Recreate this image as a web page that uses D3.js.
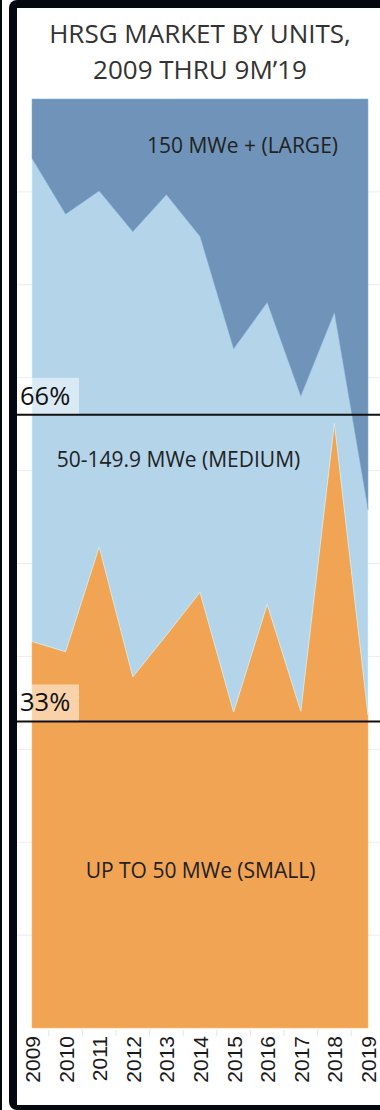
<!DOCTYPE html>
<html>
<head>
<meta charset="utf-8">
<script src="https://cdn.jsdelivr.net/npm/d3@7/dist/d3.min.js"></script>
<style>
  html, body { margin: 0; padding: 0; background: #ffffff; }
  svg { display: block; }
</style>
</head>
<body>
<script>
// HRSG market share by unit size, percent of units per year
const years = [2009, 2010, 2011, 2012, 2013, 2014, 2015, 2016, 2017, 2018, 2019];
const smallShare  = [41.6, 40.5, 51.8, 37.8, 42.3, 46.9, 34.0, 45.6, 34.1, 65.1, 33.7];
const mediumShare = [52.0, 47.1, 38.3, 47.9, 47.4, 38.3, 39.1, 32.5, 33.9, 11.9, 22.1];
const largeShare  = [ 6.4, 12.4,  9.9, 14.3, 10.3, 14.8, 26.9, 21.9, 32.0, 23.0, 44.2];
const seriesKeys  = ["small", "medium", "large"];
const seriesNames = ["UP TO 50 MWe (SMALL)", "50-149.9 MWe (MEDIUM)", "150 MWe + (LARGE)"];
const refLines = [0.66, 0.33];
const refLabels = ["66%", "33%"];
const titleLines = ["HRSG MARKET BY UNITS,", "2009 THRU 9M\u201919"];

const W = 380, H = 1110;
const plot = { left: 32, right: 368, top: 99, bottom: 1028 };
const colors = { small: "#f2a455", medium: "#b4d4ea", large: "#7094b9" };

const rows = years.map((y, i) => ({
  year: y, small: smallShare[i], medium: mediumShare[i], large: largeShare[i]
}));

const stack = d3.stack().keys(seriesKeys).offset(d3.stackOffsetExpand);
const layers = stack(rows);

const x = d3.scalePoint().domain(years).range([plot.left, plot.right]);
const y = d3.scaleLinear().domain([0, 1]).range([plot.bottom, plot.top]);

const svg = d3.select("body").append("svg").attr("width", W).attr("height", H);

// panel frame
svg.append("rect").attr("x", 0).attr("y", 0).attr("width", W).attr("height", H).attr("fill", "#ffffff");
svg.append("rect").attr("x", 0).attr("y", 0).attr("width", 2).attr("height", H).attr("fill", "#05080f");
svg.append("rect").attr("x", 9).attr("y", 0).attr("width", W + 20).attr("height", H - 0)
  .attr("rx", 8).attr("fill", "#05080f");
svg.append("rect").attr("x", 17).attr("y", 8).attr("width", W + 10).attr("height", H - 13)
  .attr("fill", "#ffffff");

// title
svg.append("g").selectAll("text").data(titleLines).join("text")
  .attr("x", 200).attr("y", (d, i) => 43 + i * 36)
  .attr("text-anchor", "middle")
  .attr("font-family", "'Open Sans', sans-serif")
  .attr("font-size", 26)
  .attr("fill", "#333333")
  .text(d => d);

// horizontal gridlines every 10%
svg.append("g").selectAll("line").data(d3.range(1, 10).map(d => d / 10)).join("line")
  .attr("x1", 17).attr("x2", W)
  .attr("y1", d => y(d)).attr("y2", d => y(d))
  .attr("stroke", "#ececec").attr("stroke-width", 1);

// stacked areas
const area = d3.area()
  .x(d => x(d.data.year))
  .y0(d => y(d[0]))
  .y1(d => y(d[1]));

svg.append("g").selectAll("path").data(layers).join("path")
  .attr("d", area)
  .attr("fill", d => colors[d.key])
  .attr("stroke", d => d3.color(colors[d.key]).brighter(0.4))
  .attr("stroke-width", 1)
  .attr("stroke-opacity", 0.6);

// series labels
const labelPos = [
  { cx: 200.5, base: 878 },
  { cx: 178.5, base: 467 },
  { cx: 242.5, base: 153 }
];
svg.append("g").selectAll("text").data(seriesNames).join("text")
  .attr("x", (d, i) => labelPos[i].cx)
  .attr("y", (d, i) => labelPos[i].base)
  .attr("text-anchor", "middle")
  .attr("font-family", "'Open Sans', sans-serif")
  .attr("font-size", 21)
  .attr("fill", "#222222")
  .text(d => d);

// reference lines with labels
const ref = svg.append("g");
ref.selectAll("rect").data(refLines).join("rect")
  .attr("x", 17).attr("y", d => y(d) - 37)
  .attr("width", 62).attr("height", 37)
  .attr("fill", "#ffffff").attr("fill-opacity", 0.5);
ref.selectAll("line").data(refLines).join("line")
  .attr("x1", 17).attr("x2", W)
  .attr("y1", d => y(d)).attr("y2", d => y(d))
  .attr("stroke", "#111111").attr("stroke-width", 2);
ref.selectAll("text").data(refLines).join("text")
  .attr("x", 20).attr("y", d => y(d) - 10)
  .attr("font-family", "'Open Sans', sans-serif")
  .attr("font-size", 25.5)
  .attr("fill", "#111111")
  .text((d, i) => refLabels[i]);

// x axis with rotated year labels
const axis = svg.append("g").attr("transform", `translate(0,${plot.bottom})`)
  .call(d3.axisBottom(x).tickSize(0).tickPadding(0));
axis.select(".domain").remove();
axis.selectAll(".tick text")
  .attr("font-family", "'Liberation Sans', Arial, sans-serif")
  .attr("font-size", 21)
  .attr("fill", "#1a1a1a")
  .attr("text-anchor", "end")
  .attr("dy", null)
  .attr("transform", "rotate(-90) translate(-8,7.5)")
  .attr("y", 0).attr("x", 0);

// faint separators between year labels
const step = x.step();
svg.append("g").selectAll("line").data(years.slice(1)).join("line")
  .attr("x1", d => x(d) - step / 2).attr("x2", d => x(d) - step / 2)
  .attr("y1", plot.bottom + 2).attr("y2", plot.bottom + 8)
  .attr("stroke", "#e6e6e6").attr("stroke-width", 1);
</script>
</body>
</html>
